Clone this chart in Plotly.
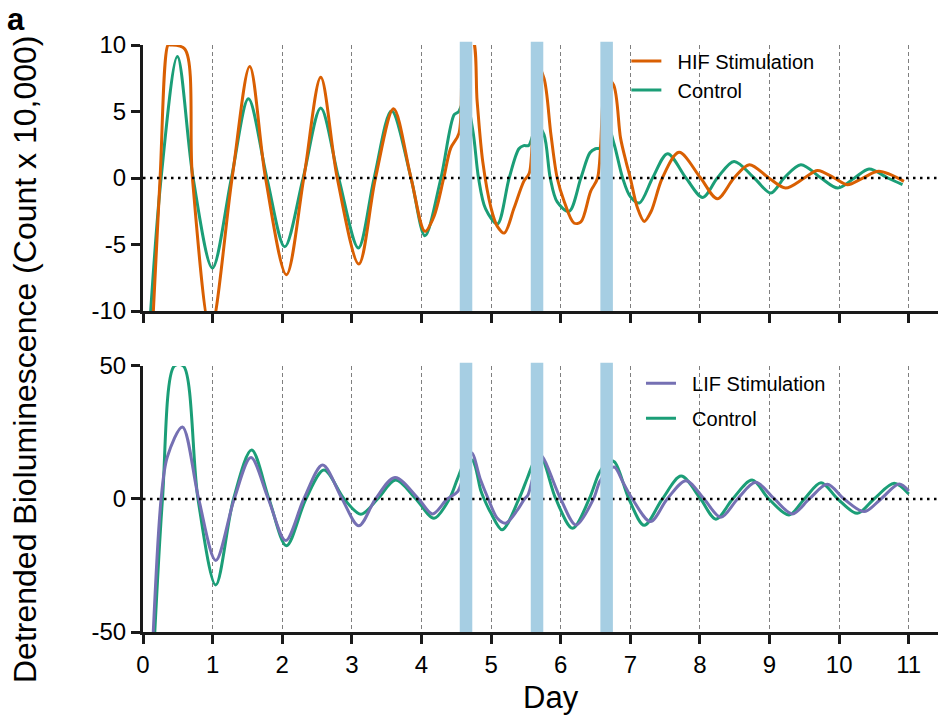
import plotly.graph_objects as go

# ---------------- data ----------------
hif_day = [0.12, 0.245, 0.36, 0.39, 0.60, 0.71, 0.97, 1.28, 1.533, 1.76, 2.06, 2.31, 2.553, 2.79,
           3.10, 3.34, 3.60, 3.85, 4.05, 4.18, 4.32, 4.42, 4.54, 4.63, 4.73, 4.80, 4.88, 5.0, 5.09,
           5.19, 5.33, 5.47, 5.55, 5.66, 5.76, 5.86, 5.95, 6.05, 6.19, 6.29, 6.43, 6.53, 6.66, 6.76,
           6.86, 6.94, 7.0, 7.10, 7.20, 7.30, 7.46, 7.70, 8.01, 8.25, 8.49, 8.71, 8.99, 9.23, 9.50,
           9.69, 9.93, 10.12, 10.34, 10.57, 10.93]
hif_val = [-13, 0, 10, 10, 9.7, 0, -11.5, 0, 8.39, 0, -7.27, 0, 7.57, 0,
           -6.47, 0, 5.21, 0, -4.01, -2.88, 0, 2.25, 3.38, 10.5, 10.5, 5.76, 1.25, -2.26, -3.64,
           -4.14, -2.26, -0.25, 0.37, 8.5, 7.5, 3.26, 0, -1.76, -3.38, -3.3, -1.0, 0, 7.5, 7.0,
           3.0, 1.2, 0, -2.2, -3.26, -2.5, 0, 1.93, 0, -1.56, 0, 1.0, 0, -0.75, 0,
           0.57, 0, -0.5, 0, 0.5, -0.25]

ctrl1_day = [0.06, 0.26, 0.494, 0.72, 0.997, 1.27, 1.514, 1.78, 2.036, 2.30, 2.553, 2.81, 3.094,
             3.32, 3.57, 3.85, 4.05, 4.28, 4.47, 4.53, 4.63, 4.74, 4.82, 4.92, 5.09, 5.26, 5.40,
             5.47, 5.54, 5.66, 5.76, 5.85, 5.95, 6.12, 6.29, 6.42, 6.50, 6.56, 6.67, 6.77, 6.89,
             7.0, 7.13, 7.32, 7.535, 7.80, 8.04, 8.25, 8.49, 8.78, 9.02, 9.21, 9.45, 9.74, 9.98,
             10.22, 10.43, 10.70, 10.91]
ctrl1_val = [-14, 0, 9.14, 0, -6.77, 0, 5.96, 0, -5.17, 0, 5.26, 0, -5.26,
             0, 5.06, 0, -4.34, 0, 4.76, 4.96, 6.0, 3.5, 0, -2.3, -3.46, 0, 2.2,
             2.43, 2.45, 4.0, 3.26, 0, -1.8, -2.51, 0, 1.9, 2.2, 2.25, 4.0, 2.5, 0,
             -1.4, -1.88, 0, 1.83, 0, -1.46, 0, 1.25, 0, -1.13, 0, 1.0, 0, -0.75,
             0, 0.68, 0, -0.5]

lif_day = [0.13, 0.26, 0.35, 0.566, 0.80, 1.045, 1.31, 1.55, 1.80, 2.05, 2.31, 2.58, 2.86, 3.10,
           3.34, 3.62, 3.96, 4.16, 4.37, 4.52, 4.62, 4.72, 4.85, 4.96, 5.09, 5.21, 5.38, 5.48,
           5.53, 5.62, 5.71, 6.0, 6.22, 6.47, 6.56, 6.66, 6.77, 6.90, 7.03, 7.29, 7.53, 7.80,
           8.06, 8.30, 8.54, 8.80, 9.07, 9.33, 9.57, 9.83, 10.07, 10.36, 10.60, 10.86, 11.0]
lif_val = [-60, 0, 15.9, 27.1, 0, -23.1, 0, 15.6, 0, -15.6, 0, 12.75, 0, -10.1,
           0, 8.1, 0, -5.6, 0, 2.75, 10, 17.4, 7.1, 0, -7.25, -9.1, -4.1, 0,
           1.5, 10, 16.5, 0, -9.75, 0, 6.5, 10, 12.0, 6.0, 0, -8.5, 0, 6.9,
           0, -6.9, 0, 6.25, 0, -5.6, 0, 5.5, 0, -4.75, 0, 5.6, 3.0]

ctrl2_day = [0.15, 0.28, 0.45, 0.58, 0.79, 1.045, 1.30, 1.56, 1.81, 2.06, 2.34, 2.60, 2.89, 3.13,
             3.37, 3.63, 3.92, 4.18, 4.40, 4.52, 4.63, 4.73, 4.85, 4.90, 5.0, 5.16, 5.40, 5.52,
             5.62, 5.71, 5.93, 6.17, 6.41, 6.55, 6.67, 6.77, 6.98, 7.2, 7.46, 7.73, 8.01, 8.23,
             8.47, 8.75, 8.99, 9.28, 9.50, 9.74, 9.98, 10.26, 10.50, 10.79, 11.0]
ctrl2_val = [-60, 0, 50, 50, 0, -32.3, 0, 18.4, 0, -17.6, 0, 10.9, 0, -5.75,
             0, 7.1, 0, -7.25, 0, 7.75, 14, 14.6, 3.4, 0, -5.4, -11.6, 0, 7.8,
             14, 16.1, 0, -11.0, 0, 9.6, 14, 14, 0, -9.9, 0, 8.6, 0, -7.6,
             0, 7.1, 0, -6.0, 0, 6.1, 0, -5.4, 0, 5.9, 1.9]

stim_start = [4.55, 5.57, 6.57]
stim_end = [4.73, 5.75, 6.75]

x_ticks = list(range(0, 12))
top_ticks = [-10, -5, 0, 5, 10]
top_ticktext = ["-10", "-5", "0", "5", "10"]
bot_ticks = [-50, 0, 50]
bot_ticktext = ["-50", "0", "50"]

# ---------------- styling ----------------
ORANGE = "#D95F02"
GREEN = "#1B9E77"
PURPLE = "#7570B3"
BAR = "#A6CEE3"
FONT = "Liberation Sans, Arial, Helvetica, sans-serif"
INK = "#1a1a1a"
PAD = "\u00a0\u00a0"  # small gap between legend line and label

fig = go.Figure()

fig.add_trace(go.Scatter(x=ctrl1_day, y=ctrl1_val, mode="lines", name=PAD + "Control",
                         line=dict(color=GREEN, width=3, shape="spline", smoothing=0.9),
                         xaxis="x", yaxis="y", legend="legend", legendrank=2))
fig.add_trace(go.Scatter(x=hif_day, y=hif_val, mode="lines", name=PAD + "HIF Stimulation",
                         line=dict(color=ORANGE, width=3, shape="spline", smoothing=0.9),
                         xaxis="x", yaxis="y", legend="legend", legendrank=1))
fig.add_trace(go.Scatter(x=ctrl2_day, y=ctrl2_val, mode="lines", name=PAD + "Control",
                         line=dict(color=GREEN, width=3, shape="spline", smoothing=0.9),
                         xaxis="x2", yaxis="y2", legend="legend2", legendgroup="c2",
                         legendrank=2))
fig.add_trace(go.Scatter(x=lif_day, y=lif_val, mode="lines", name=PAD + "LIF Stimulation",
                         line=dict(color=PURPLE, width=3, shape="spline", smoothing=0.9),
                         xaxis="x2", yaxis="y2", legend="legend2", legendgroup="l",
                         legendrank=1))

shapes = []
for yref in ["y", "y2"]:
    # dotted zero line
    shapes.append(dict(type="line", xref="x domain", x0=0, x1=1, yref=yref, y0=0, y1=0,
                       line=dict(color="black", width=2.5, dash="2.5px,4.5px"), layer="above"))
    for s, e in zip(stim_start, stim_end):
        shapes.append(dict(type="rect", xref="x", x0=s, x1=e, yref=yref + " domain",
                           y0=0, y1=1.012, fillcolor=BAR, line=dict(width=0), layer="above"))

axis_common = dict(showline=True, linecolor=INK, linewidth=3, ticks="outside", ticklen=9,
                   tickwidth=3, tickcolor=INK, mirror=False, zeroline=False,
                   tickfont=dict(family=FONT, size=24, color="black"))

xa = dict(range=[0, 11.42], tickvals=x_ticks, showgrid=True, gridcolor="#7f7f7f",
          gridwidth=1, griddash="4px,3px", **axis_common)

fig.update_layout(
    width=938, height=723,
    margin=dict(l=143, r=0, t=45, b=91),
    paper_bgcolor="white", plot_bgcolor="white",
    font=dict(family=FONT, color="black"),
    xaxis=dict(anchor="y", matches="x2", showticklabels=False, **xa),
    xaxis2=dict(anchor="y2", **xa),
    yaxis=dict(domain=[0.5468, 1], range=[-10, 10], tickvals=top_ticks,
               ticktext=top_ticktext, showgrid=False, anchor="x", **axis_common),
    yaxis2=dict(domain=[0, 0.4532], range=[-50, 50], tickvals=bot_ticks,
                ticktext=bot_ticktext, showgrid=False, anchor="x2", **axis_common),
    shapes=shapes,
    legend=dict(x=0.608, xanchor="left", y=1.006, yanchor="top", bgcolor="rgba(0,0,0,0)",
                font=dict(family=FONT, size=20, color="black"), itemwidth=30),
    legend2=dict(x=0.6264, xanchor="left", y=0.457, yanchor="top", bgcolor="rgba(0,0,0,0)",
                 font=dict(family=FONT, size=20, color="black"), tracegroupgap=6,
                 itemwidth=30),
    annotations=[
        dict(text="<b>a</b>", xref="paper", yref="paper", x=-0.16, y=1.0767,
             xanchor="center", yanchor="top", showarrow=False,
             font=dict(family=FONT, size=31, color="black")),
        dict(text="Detrended Bioluminescence (Count x 10,000)", xref="paper", yref="paper",
             x=-0.1484, y=0.4634, xanchor="center", yanchor="middle", textangle=-90,
             showarrow=False, font=dict(family=FONT, size=32, color="black")),
        dict(text="Day", xref="paper", yref="paper", x=0.513, y=-0.1124,
             xanchor="center", yanchor="middle", showarrow=False,
             font=dict(family=FONT, size=31, color="black")),
    ],
)

fig.write_html("out.html")
